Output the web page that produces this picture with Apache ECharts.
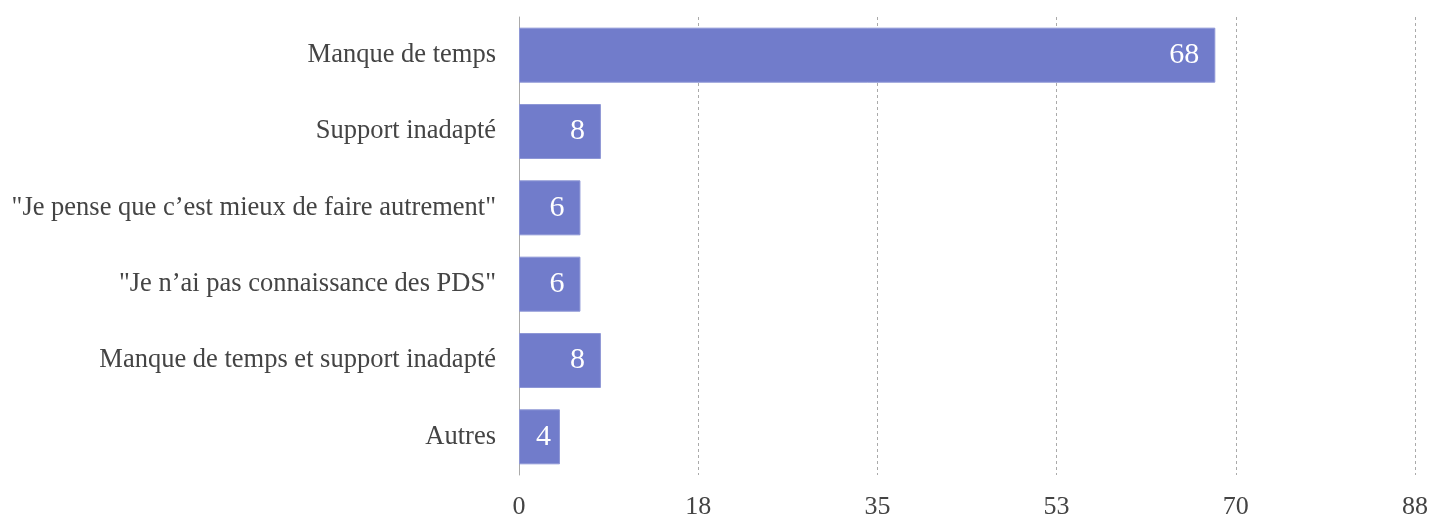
<!DOCTYPE html>
<html>
<head>
<meta charset="utf-8">
<script src="https://cdn.jsdelivr.net/npm/echarts@6/dist/echarts.min.js"></script>
<style>
  html, body { margin: 0; padding: 0; background: #ffffff; }
  #chart { width: 1431px; height: 517px; }
</style>
</head>
<body>
<div id="chart"></div>
<script>
// Reasons given, top to bottom
const categories = [
  'Manque de temps',
  'Support inadapté',
  '"Je pense que c\u2019est mieux de faire autrement"',
  '"Je n\u2019ai pas connaissance des PDS"',
  'Manque de temps et support inadapté',
  'Autres'
];
const counts = [68, 8, 6, 6, 8, 4];

// Value axis range
const axisMax = 87.5;
const axisStep = 17.5;

// The narrowest bar keeps its number closer to the bar end
const barData = counts.map(v => (
  v < 5 ? { value: v, label: { distance: 9 } } : v
));

const chart = echarts.init(document.getElementById('chart'));
chart.setOption({
  animation: false,
  grid: {
    left: 519, right: 16, top: 17, bottom: 42,
    containLabel: false,
    outerBoundsMode: 'none'
  },
  xAxis: {
    type: 'value',
    min: 0,
    max: axisMax,
    interval: axisStep,
    axisLine: { show: false },
    axisTick: { show: false },
    axisLabel: {
      formatter: v => String(Math.round(v)),
      fontFamily: 'Liberation Serif',
      fontSize: 26,
      color: '#444444',
      margin: 19
    },
    splitLine: {
      show: true,
      lineStyle: { color: '#aaaaaa', type: [3, 3], width: 1 }
    }
  },
  yAxis: {
    type: 'category',
    data: categories,
    inverse: true,
    axisLine: { show: true, lineStyle: { color: '#aaaaaa', width: 1 } },
    axisTick: { show: false },
    axisLabel: {
      fontFamily: 'Liberation Serif',
      fontSize: 26.5,
      color: '#444444',
      margin: 23
    }
  },
  series: [{
    type: 'bar',
    data: barData,
    barWidth: 55,
    itemStyle: { color: '#717ccb', borderColor: '#8e97d6', borderWidth: 1 },
    label: {
      show: true,
      position: 'insideRight',
      distance: 16,
      color: '#ffffff',
      fontFamily: 'Liberation Serif',
      fontSize: 30
    }
  }]
});
</script>
</body>
</html>
